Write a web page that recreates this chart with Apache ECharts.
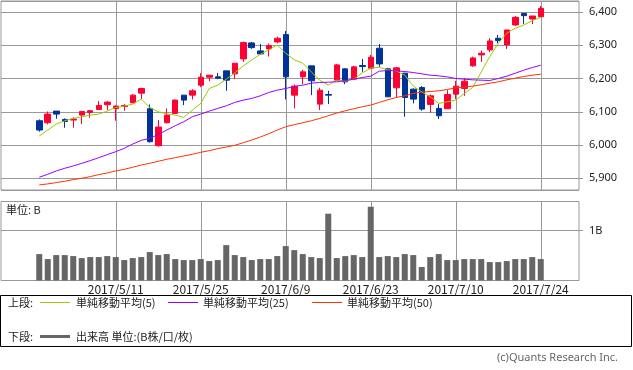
<!DOCTYPE html>
<html>
<head>
<meta charset="utf-8">
<script src="https://cdn.jsdelivr.net/npm/echarts@6/dist/echarts.min.js"></script>
<style>
html,body{margin:0;padding:0;background:#fff;}
#chart{width:633px;height:370px;}
</style>
</head>
<body>
<div id="chart"></div>
<script>
// ---- data ----
const tickIndex = [9, 19, 29, 39, 49, 59];
const tickLabels = ['2017/5/11', '2017/5/25', '2017/6/9', '2017/6/23', '2017/7/10', '2017/7/24'];

const opens  = [6073,6067,6102,6077,6075,6090,6098,6107,6121,6110,6116,6127,6156,6109,5998,6067,6095,6150,6150,6180,
                6204,6205,6223,6214,6259,6307,6283,6289,6310,6332,6150,6205,6238,6123,6152,6195,6229,6198,6239,6231,
                6291,6229,6172,6216,6168,6173,6122,6110,6109,6153,6170,6238,6271,6286,6321,6301,6361,6396,6379,6386];
const closes = [6045,6093,6093,6071,6078,6101,6103,6119,6129,6117,6119,6150,6170,6010,6054,6090,6135,6135,6163,6204,
                6210,6201,6195,6246,6308,6293,6274,6299,6321,6205,6177,6220,6193,6165,6150,6241,6190,6235,6236,6264,
                6244,6145,6232,6143,6138,6108,6148,6088,6152,6177,6192,6262,6276,6313,6314,6346,6384,6389,6388,6411];
const lows   = [6040,6062,6079,6052,6052,6063,6082,6105,6105,6073,6103,6126,6138,6007,5995,6065,6093,6120,6137,6174,
                6192,6198,6163,6198,6250,6289,6271,6266,6306,6137,6110,6183,6150,6105,6123,6193,6183,6195,6220,6228,
                6235,6145,6143,6085,6125,6103,6097,6078,6108,6138,6148,6235,6250,6279,6306,6289,6358,6364,6364,6384];
const highs  = [6077,6101,6102,6080,6083,6101,6105,6132,6133,6119,6123,6153,6172,6122,6075,6110,6137,6150,6168,6216,
                6210,6217,6223,6246,6311,6310,6304,6305,6326,6343,6182,6226,6238,6172,6163,6244,6231,6238,6259,6271,
                6304,6232,6235,6217,6170,6177,6152,6123,6165,6193,6201,6266,6284,6321,6331,6346,6388,6396,6388,6418];

const ma5  = [6027,6045,6063,6073,6080,6085,6090,6093,6102,6113,6117,6123,6138,6113,6100,6094,6090,6083,6105,6125,
              6170,6180,6198,6217,6238,6256,6273,6286,6301,6276,6256,6246,6220,6195,6180,6195,6192,6198,6217,6231,
              6234,6226,6223,6210,6177,6160,6145,6125,6130,6135,6155,6173,6220,6266,6306,6336,6351,6361,6374,6384];
const ma25 = [5903,5912,5922,5930,5937,5945,5953,5962,5971,5980,5990,6003,6014,6020,6032,6045,6058,6070,6085,6093,
              6102,6110,6118,6128,6135,6140,6148,6158,6165,6170,6176,6180,6186,6188,6189,6190,6194,6198,6203,6207,
              6222,6224,6223,6221,6218,6214,6210,6208,6205,6200,6198,6196,6195,6194,6200,6207,6216,6225,6233,6240];
const ma50 = [5880,5883,5887,5891,5896,5900,5905,5911,5916,5922,5927,5933,5940,5945,5951,5957,5962,5967,5972,5978,
              5983,5989,5994,5999,6007,6015,6024,6034,6045,6055,6061,6067,6073,6080,6088,6096,6103,6109,6115,6120,
              6128,6136,6143,6148,6155,6159,6161,6163,6167,6172,6174,6177,6181,6186,6190,6196,6201,6206,6210,6213];

const volume = [0.53,0.43,0.51,0.51,0.49,0.45,0.47,0.47,0.49,0.47,0.41,0.45,0.47,0.57,0.51,0.53,0.43,0.41,0.41,0.43,
                0.39,0.41,0.71,0.51,0.47,0.41,0.43,0.43,0.49,0.69,0.61,0.53,0.47,0.45,1.34,0.45,0.49,0.51,0.47,1.48,
                0.47,0.49,0.47,0.53,0.51,0.27,0.47,0.53,0.41,0.41,0.43,0.43,0.43,0.37,0.37,0.39,0.43,0.43,0.47,0.43];

const priceTicks = [5900, 6000, 6100, 6200, 6300, 6400];

// ---- build ----
const PAD = 4;
const N = opens.length;
const total = N + PAD * 2;
const categories = [];
for (let k = 0; k < total; k++) {
  const j = k - PAD;
  const t = tickIndex.indexOf(j);
  categories.push(t >= 0 ? tickLabels[t] : 'c' + k);
}
function pad(arr) {
  const out = [];
  for (let k = 0; k < PAD; k++) out.push('-');
  arr.forEach(v => out.push(v));
  for (let k = 0; k < PAD; k++) out.push('-');
  return out;
}
const candleData = pad(opens.map((o, i) => [o, closes[i], lows[i], highs[i]]));

const UP = '#ff0033', DOWN = '#003399', GRIDC = '#999999';
const CJK = "'Noto Sans CJK JP', 'Noto Sans', sans-serif";
const fmt = v => String(v).replace(/\B(?=(\d{3})+(?!\d))/g, ',');
const vLines = tickIndex.map(i => ({ xAxis: i + PAD }));

const chart = echarts.init(document.getElementById('chart'), null, { renderer: 'canvas' });
chart.setOption({
  animation: false,
  backgroundColor: '#fff',
  grid: [
    { left: 1, top: 1, width: 578, height: 189, show: true, borderColor: GRIDC, borderWidth: 1, backgroundColor: 'transparent' },
    { left: 1, top: 201.5, width: 578, height: 79, show: true, borderColor: GRIDC, borderWidth: 1, backgroundColor: 'transparent' }
  ],
  xAxis: [
    { type: 'category', gridIndex: 0, data: categories, boundaryGap: true,
      axisLine: { show: false }, axisTick: { show: false }, axisLabel: { show: false }, splitLine: { show: false } },
    { type: 'category', gridIndex: 1, data: categories, boundaryGap: true,
      axisLine: { show: false }, axisTick: { show: false }, splitLine: { show: false },
      axisLabel: { show: true, interval: (idx) => tickIndex.indexOf(idx - PAD) >= 0,
        color: '#222', fontSize: 12, fontFamily: CJK, margin: 3 } }
  ],
  yAxis: [
    { type: 'value', gridIndex: 0, position: 'right', min: 5864.7, max: 6433.1, splitNumber: 5, scale: true,
      axisLine: { show: false },
      axisTick: { show: true, length: 4, lineStyle: { color: GRIDC } },
      splitLine: { show: true, lineStyle: { color: GRIDC, width: 1 } },
      axisLabel: { show: true, showMinLabel: false, showMaxLabel: false, margin: 10, color: '#222', fontSize: 11,
        fontFamily: "'Noto Sans', sans-serif",
        formatter: v => priceTicks.indexOf(v) >= 0 ? fmt(v) : '' } },
    { type: 'value', gridIndex: 1, position: 'right', min: 0, max: 1.585, interval: 1,
      axisLine: { show: false },
      axisTick: { show: true, length: 4, lineStyle: { color: GRIDC } },
      splitLine: { show: true, lineStyle: { color: GRIDC, width: 1 } },
      axisLabel: { show: true, showMinLabel: false, showMaxLabel: false, margin: 10, color: '#222', fontSize: 11,
        fontFamily: "'Noto Sans', sans-serif",
        formatter: v => v === 1 ? '1B' : '' } }
  ],
  series: [
    { type: 'candlestick', xAxisIndex: 0, yAxisIndex: 0, data: candleData, barWidth: 6,
      itemStyle: { color: UP, color0: DOWN, borderColor: UP, borderColor0: DOWN, borderWidth: 1 },
      markLine: { silent: true, z: 1, symbol: ['none', 'none'], label: { show: false },
        lineStyle: { color: GRIDC, type: 'solid', width: 1 }, emphasis: { disabled: true }, data: vLines } },
    { type: 'line', xAxisIndex: 0, yAxisIndex: 0, data: pad(ma5), showSymbol: false, symbol: 'none',
      lineStyle: { color: '#99cc00', width: 1 }, z: 3 },
    { type: 'line', xAxisIndex: 0, yAxisIndex: 0, data: pad(ma25), showSymbol: false, symbol: 'none',
      lineStyle: { color: '#9900ff', width: 1 }, z: 3 },
    { type: 'line', xAxisIndex: 0, yAxisIndex: 0, data: pad(ma50), showSymbol: false, symbol: 'none',
      lineStyle: { color: '#ff3300', width: 1 }, z: 3 },
    { type: 'bar', xAxisIndex: 1, yAxisIndex: 1, data: pad(volume), barWidth: 6,
      itemStyle: { color: '#666666' },
      markLine: { silent: true, z: 1, symbol: ['none', 'none'], label: { show: false },
        lineStyle: { color: GRIDC, type: 'solid', width: 1 }, emphasis: { disabled: true }, data: vLines } }
  ],
  graphic: [
    { type: 'text', left: 6, top: 204, style: { text: '単位: B', font: "11px " + CJK, fill: '#222' } },
    { type: 'rect', shape: { x: 0.5, y: 295.5, width: 631, height: 51 }, style: { fill: 'none', stroke: '#000', lineWidth: 1 } },
    { type: 'text', x: 8, y: 303, style: { text: '上段:', font: "11px " + CJK, fill: '#222', verticalAlign: 'middle' } },
    { type: 'line', shape: { x1: 40, y1: 302.5, x2: 70, y2: 302.5 }, style: { stroke: '#99cc00', lineWidth: 1 } },
    { type: 'text', x: 76, y: 303, style: { text: '単純移動平均(5)', font: "11px " + CJK, fill: '#222', verticalAlign: 'middle' } },
    { type: 'line', shape: { x1: 168, y1: 302.5, x2: 198, y2: 302.5 }, style: { stroke: '#9900ff', lineWidth: 1 } },
    { type: 'text', x: 203, y: 303, style: { text: '単純移動平均(25)', font: "11px " + CJK, fill: '#222', verticalAlign: 'middle' } },
    { type: 'line', shape: { x1: 312, y1: 302.5, x2: 342, y2: 302.5 }, style: { stroke: '#ff3300', lineWidth: 1 } },
    { type: 'text', x: 347, y: 303, style: { text: '単純移動平均(50)', font: "11px " + CJK, fill: '#222', verticalAlign: 'middle' } },
    { type: 'text', x: 8, y: 337, style: { text: '下段:', font: "11px " + CJK, fill: '#222', verticalAlign: 'middle' } },
    { type: 'line', shape: { x1: 40, y1: 336.5, x2: 70, y2: 336.5 }, style: { stroke: '#666666', lineWidth: 3 } },
    { type: 'text', x: 76, y: 337, style: { text: '出来高 単位:(B株/口/枚)', font: "11px " + CJK, fill: '#222', verticalAlign: 'middle' } },
    { type: 'text', x: 497, y: 358, style: { text: '(c)Quants Research Inc.', font: "11px 'Noto Sans', sans-serif", fill: '#666', verticalAlign: 'middle' } }
  ]
});
</script>
</body>
</html>
